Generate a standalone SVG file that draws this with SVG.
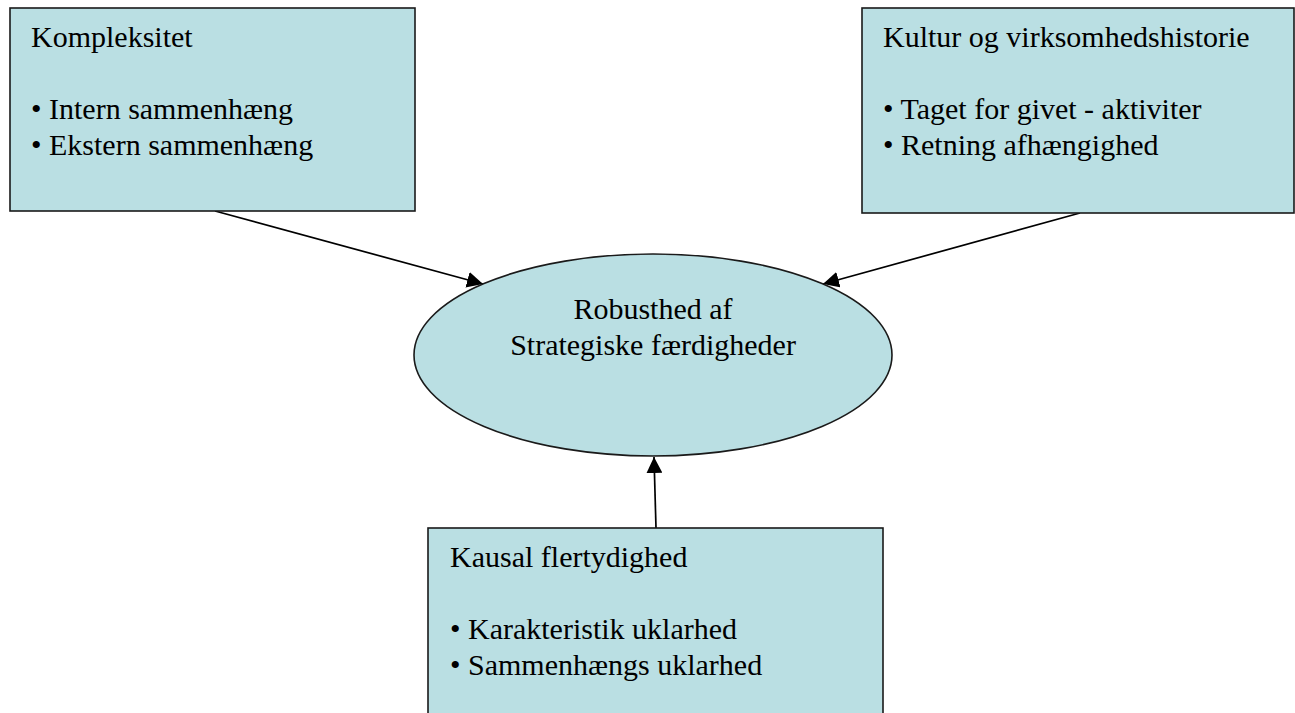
<svg xmlns="http://www.w3.org/2000/svg" width="1295" height="713" viewBox="0 0 1295 713">
  <defs>
    <style>
      .box { fill: #BADFE3; stroke: #1a1a1a; stroke-width: 1.6; }
      .t { font-family: "Liberation Serif", "Times New Roman", serif; font-size: 30px; fill: #000; }
      .c { text-anchor: middle; }
      .edge { stroke: #000; stroke-width: 1.7; fill: none; marker-end: url(#arrow); }
    </style>
    <marker id="arrow" markerUnits="userSpaceOnUse" markerWidth="18" markerHeight="16" refX="16" refY="8" orient="auto">
      <path d="M0,0 L16,8 L0,16 z" fill="#000"/>
    </marker>
  </defs>
  <rect width="1295" height="713" fill="#fff"/>

  <g id="connectors">
    <line class="edge" x1="215" y1="211" x2="483" y2="284"/>
    <line class="edge" x1="1080" y1="213" x2="823" y2="284"/>
    <line class="edge" x1="656" y1="528" x2="654" y2="457"/>
  </g>

  <g id="node-kompleksitet">
    <rect class="box" x="10" y="8" width="405" height="203"/>
    <text class="t" x="31" y="47">Kompleksitet</text>
    <text class="t" x="31" y="119">• Intern sammenhæng</text>
    <text class="t" x="31" y="155">• Ekstern sammenhæng</text>
  </g>

  <g id="node-kultur">
    <rect class="box" x="862" y="8" width="432" height="205"/>
    <text class="t" x="883" y="47">Kultur og virksomhedshistorie</text>
    <text class="t" x="883" y="119">• Taget for givet - aktiviter</text>
    <text class="t" x="883" y="155">• Retning afhængighed</text>
  </g>

  <g id="node-robusthed">
    <ellipse class="box" cx="653" cy="355" rx="239" ry="101"/>
    <text class="t c" x="653" y="319">Robusthed af</text>
    <text class="t c" x="653" y="355">Strategiske færdigheder</text>
  </g>

  <g id="node-kausal">
    <rect class="box" x="428" y="528" width="455" height="200"/>
    <text class="t" x="450" y="567">Kausal flertydighed</text>
    <text class="t" x="450" y="639">• Karakteristik uklarhed</text>
    <text class="t" x="450" y="675">• Sammenhængs uklarhed</text>
  </g>
</svg>
